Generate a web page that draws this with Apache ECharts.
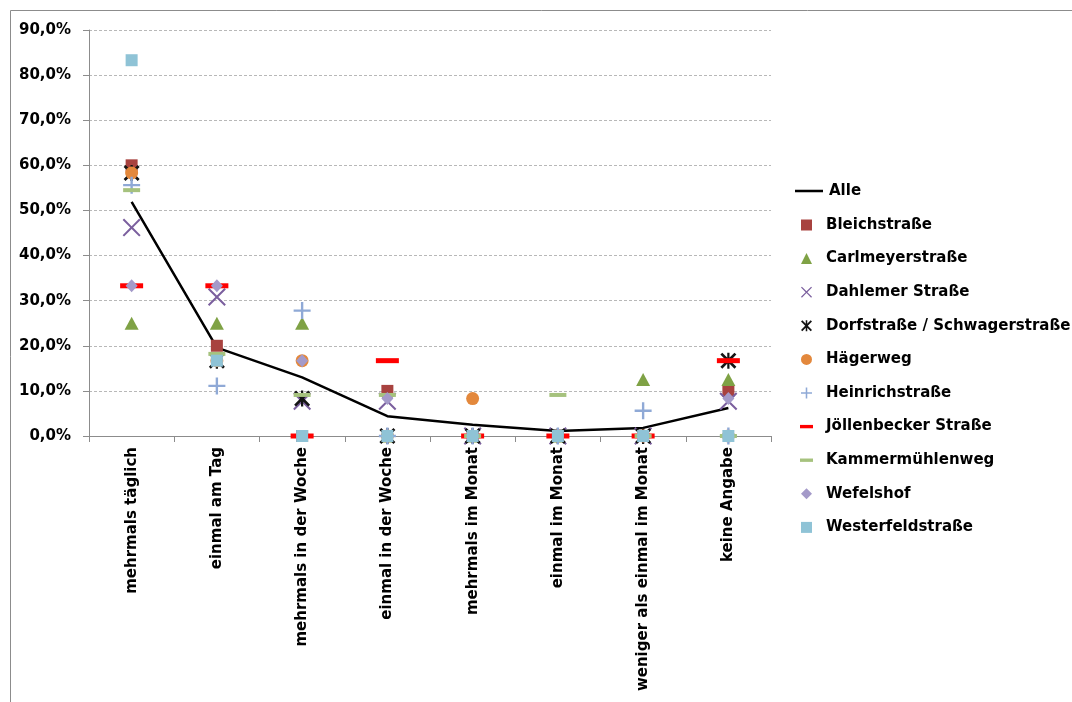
<!DOCTYPE html>
<html>
<head>
<meta charset="utf-8">
<script src="https://cdn.jsdelivr.net/npm/echarts@6/dist/echarts.min.js"></script>
<style>
  html, body { margin: 0; padding: 0; background: #ffffff; }
  #chart { width: 1072px; height: 702px; }
</style>
</head>
<body>
<div id="chart"></div>
<script>
// Häufigkeit je Kategorie, Anteile in Prozent
const categories = [
  'mehrmals täglich', 'einmal am Tag', 'mehrmals in der Woche', 'einmal in der Woche',
  'mehrmals im Monat', 'einmal im Monat', 'weniger als einmal im Monat', 'keine Angabe'
];
const alle              = [51.9, 19.6, 13.0, 4.4, 2.5, 1.1, 1.8, 6.2];
const bleichstrasse     = [60.0, 20.0, 0, 10.0, 0, 0, 0, 10.0];
const carlmeyerstrasse  = [25.0, 25.0, 25.0, 0, 0, 0, 12.5, 12.5];
const dahlemerStrasse   = [46.2, 30.8, 7.7, 7.7, 0, 0, 0, 7.7];
const dorfstrasse       = [58.3, 16.7, 8.3, 0, 0, 0, 0, 16.7];
const haegerweg         = [58.3, 16.7, 16.7, 0, 8.3, 0, 0, 0];
const heinrichstrasse   = [55.6, 11.1, 27.8, 0, 0, 0, 5.6, 0];
const joellenbecker     = [33.3, 33.3, 0, 16.7, 0, 0, 0, 16.7];
const kammermuehlenweg  = [54.5, 18.2, 9.1, 9.1, 0, 9.1, 0, 0];
const wefelshof         = [33.3, 33.3, 16.7, 8.3, 0, 0, 0, 8.3];
const westerfeldstrasse = [83.3, 16.7, 0, 0, 0, 0, 0, 0];
const yTicks = { min: 0, max: 90, interval: 10 };

// marker shapes
const SQUARE     = 'path://M0,0 L100,0 L100,100 L0,100 Z';
const TRIANGLE   = 'path://M50,0 L100,100 L0,100 Z';
const DIAMOND    = 'path://M50,0 L100,50 L50,100 L0,50 Z';
const CROSS_X    = 'path://M0,8 L8,0 L50,42 L92,0 L100,8 L58,50 L100,92 L92,100 L50,58 L8,100 L0,92 L42,50 Z';
const PLUS       = 'path://M43,0 L57,0 L57,43 L100,43 L100,57 L57,57 L57,100 L43,100 L43,57 L0,57 L0,43 L43,43 Z';
const STAR       = 'path://M0,12 L12,0 L50,38 L88,0 L100,12 L62,50 L100,88 L88,100 L50,62 L12,100 L0,88 L38,50 Z M43,0 L57,0 L57,100 L43,100 Z';
const DASH_WIDE  = 'path://M0,0 L100,0 L100,26 L0,26 Z';
const DASH_THIN  = 'path://M0,0 L100,0 L100,26 L0,26 Z';
const LINE_ICON  = 'path://M0,0 L100,0 L100,9 L0,9 Z';

const markerSeries = [
  { name: 'Bleichstraße',                data: bleichstrasse,     symbol: SQUARE,    size: 12,       color: '#A8423F' },
  { name: 'Carlmeyerstraße',             data: carlmeyerstrasse,  symbol: TRIANGLE,  size: [14, 13], color: '#7FA245' },
  { name: 'Dahlemer Straße',             data: dahlemerStrasse,   symbol: CROSS_X,   size: 18,       color: '#7B5F9E' },
  { name: 'Dorfstraße / Schwagerstraße', data: dorfstrasse,       symbol: STAR,      size: 16,       color: '#141414' },
  { name: 'Hägerweg',                    data: haegerweg,         symbol: 'circle',  size: 13,       color: '#E3883C' },
  { name: 'Heinrichstraße',              data: heinrichstrasse,   symbol: PLUS,      size: 17,       color: '#8FA9D6' },
  { name: 'Jöllenbecker Straße',         data: joellenbecker,     symbol: DASH_WIDE, size: [23, 5],  color: '#FF0000' },
  { name: 'Kammermühlenweg',             data: kammermuehlenweg,  symbol: DASH_THIN, size: [17, 4],  color: '#A6C27E' },
  { name: 'Wefelshof',                   data: wefelshof,         symbol: DIAMOND,   size: [12, 13], color: '#A49AC9' },
  { name: 'Westerfeldstraße',            data: westerfeldstrasse, symbol: SQUARE,    size: 12,       color: '#8FC3D6' }
];

const FONT = 'DejaVu Sans';
const textBase = { fontFamily: FONT, fontWeight: 'bold', fontSize: 15, color: '#000000' };

const series = [{
  name: 'Alle',
  type: 'line',
  data: alle,
  symbol: 'none',
  z: 1,
  lineStyle: { color: '#000000', width: 2.5 },
  itemStyle: { color: '#000000' }
}].concat(markerSeries.map(function (s, i) {
  return {
    name: s.name,
    type: 'scatter',
    data: s.data,
    symbol: s.symbol,
    symbolSize: s.size,
    z: 2 + i,
    itemStyle: { color: s.color, opacity: 1 }
  };
}));

const chart = echarts.init(document.getElementById('chart'), null, { renderer: 'canvas' });
chart.setOption({
  animation: false,
  backgroundColor: '#ffffff',
  graphic: [{
    type: 'rect',
    shape: { x: 10.5, y: 10.5, width: 1100, height: 740 },
    style: { fill: 'none', stroke: '#8C8C8C', lineWidth: 1 },
    silent: true
  }],
  grid: { left: 89, right: 301, top: 30, bottom: 266, containLabel: false },
  xAxis: {
    type: 'category',
    data: categories,
    boundaryGap: true,
    axisLine: { lineStyle: { color: '#8C8C8C', width: 1 } },
    axisTick: { show: true, alignWithLabel: false, length: 6, lineStyle: { color: '#8C8C8C' } },
    axisLabel: Object.assign({ rotate: 90, margin: 11, interval: 0 }, textBase),
    splitLine: { show: false }
  },
  yAxis: {
    type: 'value',
    min: yTicks.min,
    max: yTicks.max,
    interval: yTicks.interval,
    axisLine: { show: true, lineStyle: { color: '#8C8C8C', width: 1 } },
    axisTick: { show: true, length: 6, lineStyle: { color: '#8C8C8C' } },
    axisLabel: Object.assign({
      margin: 18,
      formatter: function (v) { return v.toFixed(1).replace('.', ',') + '%'; }
    }, textBase),
    splitLine: { show: true, lineStyle: { color: '#B8B8B8', type: [3, 2], width: 1 } }
  },
  legend: [{
    data: [{ name: 'Alle', icon: LINE_ICON, itemStyle: { color: '#000000' } }],
    orient: 'vertical',
    left: 790,
    top: 178,
    itemWidth: 28,
    itemHeight: 14,
    symbolKeepAspect: true,
    textStyle: Object.assign({ lineHeight: 16, padding: [0, 0, 0, 1] }, textBase),
    selectedMode: false
  }, {
    data: markerSeries.map(function (s) { return { name: s.name, icon: s.symbol }; }),
    orient: 'vertical',
    left: 795,
    top: 212,
    itemWidth: 13,
    itemHeight: 11,
    itemGap: 17.6,
    symbolKeepAspect: true,
    textStyle: Object.assign({ lineHeight: 16, padding: [0, 0, 0, 8] }, textBase),
    selectedMode: false
  }],
  series: series
});
</script>
</body>
</html>
